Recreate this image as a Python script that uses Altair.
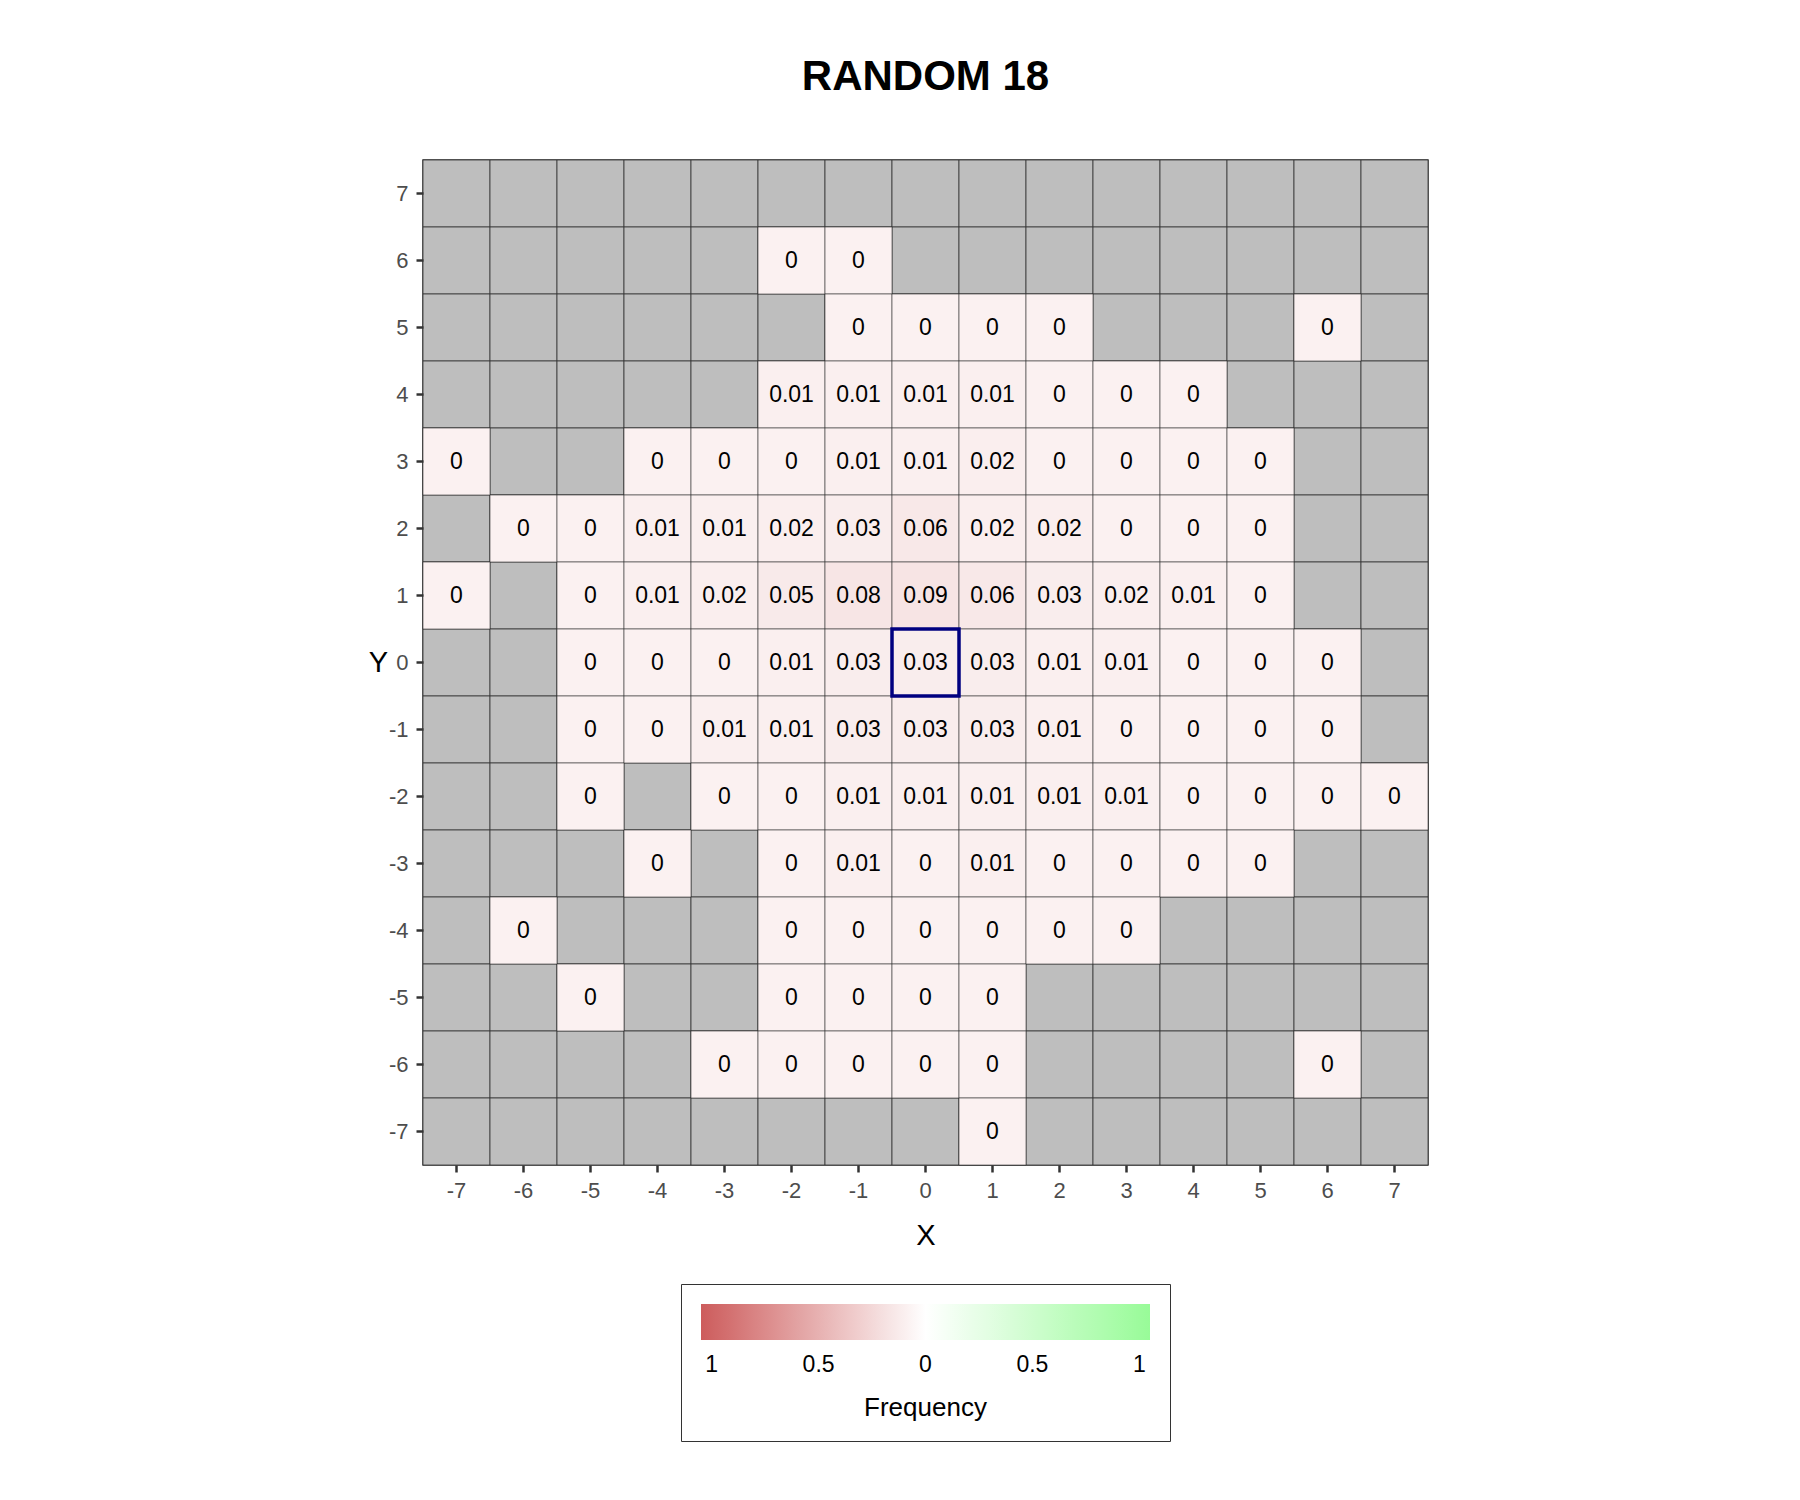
import altair as alt

# Grid coordinates
x_values = [-7, -6, -5, -4, -3, -2, -1, 0, 1, 2, 3, 4, 5, 6, 7]
y_values = [7, 6, 5, 4, 3, 2, 1, 0, -1, -2, -3, -4, -5, -6, -7]

N = None
# Frequency per row (x = -7 .. 7); None = no observation (grey tile)
row_p7 = [N, N, N, N, N, N, N, N, N, N, N, N, N, N, N]
row_p6 = [N, N, N, N, N, 0, 0, N, N, N, N, N, N, N, N]
row_p5 = [N, N, N, N, N, N, 0, 0, 0, 0, N, N, N, 0, N]
row_p4 = [N, N, N, N, N, 0.01, 0.01, 0.01, 0.01, 0, 0, 0, N, N, N]
row_p3 = [0, N, N, 0, 0, 0, 0.01, 0.01, 0.02, 0, 0, 0, 0, N, N]
row_p2 = [N, 0, 0, 0.01, 0.01, 0.02, 0.03, 0.06, 0.02, 0.02, 0, 0, 0, N, N]
row_p1 = [0, N, 0, 0.01, 0.02, 0.05, 0.08, 0.09, 0.06, 0.03, 0.02, 0.01, 0, N, N]
row_0 = [N, N, 0, 0, 0, 0.01, 0.03, 0.03, 0.03, 0.01, 0.01, 0, 0, 0, N]
row_m1 = [N, N, 0, 0, 0.01, 0.01, 0.03, 0.03, 0.03, 0.01, 0, 0, 0, 0, N]
row_m2 = [N, N, 0, N, 0, 0, 0.01, 0.01, 0.01, 0.01, 0.01, 0, 0, 0, 0]
row_m3 = [N, N, N, 0, N, 0, 0.01, 0, 0.01, 0, 0, 0, 0, N, N]
row_m4 = [N, 0, N, N, N, 0, 0, 0, 0, 0, 0, N, N, N, N]
row_m5 = [N, N, 0, N, N, 0, 0, 0, 0, N, N, N, N, N, N]
row_m6 = [N, N, N, N, 0, 0, 0, 0, 0, N, N, N, N, 0, N]
row_m7 = [N, N, N, N, N, N, N, N, 0, N, N, N, N, N, N]

rows = [row_p7, row_p6, row_p5, row_p4, row_p3, row_p2, row_p1, row_0,
        row_m1, row_m2, row_m3, row_m4, row_m5, row_m6, row_m7]

# Highlighted (origin) cell
highlight_x = [0]
highlight_y = [0]

legend_values = [-1, -0.5, 0, 0.5, 1]

records = []
for yv, row in zip(y_values, rows):
    for xv, f in zip(x_values, row):
        records.append({"x": xv, "y": yv, "freq": f})

hl_records = [{"x": a, "y": b} for a, b in zip(highlight_x, highlight_y)]

FONT = "Liberation Sans"
RED = "#CD5C5C"
WHITE = "#FFFFFF"
GREEN = "#98FB98"

data = alt.Data(values=records)

x_enc = alt.X(
    "x:O", sort=x_values,
    scale=alt.Scale(paddingInner=0, paddingOuter=0),
    axis=alt.Axis(title="X", labelAngle=0, titleY=70, titleBaseline="middle"),
)
y_enc = alt.Y(
    "y:O", sort=y_values,
    scale=alt.Scale(paddingInner=0, paddingOuter=0),
    axis=alt.Axis(title="Y", titleAngle=0, titleX=-45, titleY=502,
                  titleAlign="center", titleBaseline="middle"),
)

base = alt.Chart(data).encode(x=x_enc, y=y_enc)

grey = base.mark_rect(fill="#BEBEBE", stroke="#333333", strokeWidth=1, strokeOpacity=0.8)

filled = base.transform_filter("isValid(datum.freq)").transform_calculate(
    signed="-datum.freq"
)

tiles = filled.mark_rect(stroke="#333333", strokeWidth=1, strokeOpacity=0.6).encode(
    color=alt.Color(
        "signed:Q",
        scale=alt.Scale(domain=[-1.05, 0.1, 1.05], range=[RED, WHITE, GREEN],
                        interpolate="rgb"),
        legend=None,
    )
)

labels = filled.mark_text(font=FONT, fontSize=23, color="black").encode(
    text=alt.Text("freq:Q", format="~g")
)

legend_layer = base.transform_filter("false").transform_calculate(
    signed="-datum.freq"
).mark_rect().encode(
    fill=alt.Fill(
        "signed:Q",
        scale=alt.Scale(domain=[-1.05, 0, 1.05], range=[RED, WHITE, GREEN],
                        interpolate="rgb"),
        legend=alt.Legend(
            orient="none", legendX=258, legendY=1124,
            direction="horizontal",
            gradientLength=449, gradientThickness=36,
            values=legend_values,
            labelExpr="'' + abs(datum.value)",
            title="\u2800Frequency", titleOrient="bottom",
            titleAnchor="middle", titleAlign="center",
            titleFontSize=26, titleFontWeight="normal", titleColor="black",
            titleFont=FONT, titlePadding=18,
            labelFontSize=23, labelColor="black", labelFont=FONT,
            labelOffset=14, labelAlign="center",
            padding=20, strokeColor="#333333", fillColor="white",
        ),
    )
)

highlight = alt.Chart(alt.Data(values=hl_records)).mark_rect(
    fillOpacity=0, stroke="#000080", strokeWidth=3.5
).encode(x=alt.X("x:O", sort=x_values), y=alt.Y("y:O", sort=y_values))

chart = alt.layer(grey, tiles, labels, legend_layer, highlight).properties(
    width=1005, height=1005,
    title=alt.TitleParams("RANDOM 18", fontSize=42, fontWeight="bold", font=FONT,
                          anchor="middle", frame="group", offset=61, color="black"),
    padding={"left": 368, "top": 55, "right": 5, "bottom": 5},
).configure_view(
    stroke="#333333", strokeWidth=1.5
).configure_axis(
    labelFont=FONT, labelFontSize=22, labelColor="#4D4D4D",
    titleFont=FONT, titleFontSize=29, titleFontWeight="normal", titleColor="black",
    tickColor="#333333", tickSize=7, tickWidth=2.5, labelPadding=8,
    domain=False, grid=False,
)

chart.save("out.html", embed_options={"renderer": "svg", "actions": False})
